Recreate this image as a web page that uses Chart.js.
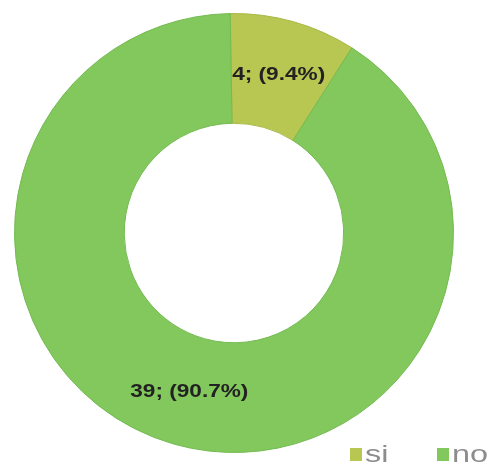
<!DOCTYPE html>
<html>
<head>
<meta charset="utf-8">
<script src="https://cdn.jsdelivr.net/npm/chart.js@4/dist/chart.umd.min.js"></script>
<style>
  html, body { margin: 0; padding: 0; background: #fff; }
  #wrap { width: 493px; height: 467px; position: relative; }
</style>
</head>
<body>
<div id="wrap"><canvas id="answersChart"></canvas></div>
<script>
// ────────────────────────────────────────────────
// Data
// ────────────────────────────────────────────────
const categories    = ['si', 'no'];
const counts        = [4, 39];
const percentLabels = ['9.4%', '90.7%'];

const sliceColors = ['#b8c751', '#82c85d'];
const edgeColors  = ['#a8b848', '#74ba52'];

// ────────────────────────────────────────────────
// Plugins
// ────────────────────────────────────────────────

// "value; (pct)" label in the middle of each ring slice
const sliceLabels = {
    id: 'sliceLabels',
    afterDatasetsDraw(chart) {
        const ctx = chart.ctx;
        chart.getDatasetMeta(0).data.forEach((arc, i) => {
            const pos = arc.tooltipPosition();
            ctx.save();
            ctx.translate(pos.x, pos.y);
            ctx.scale(1.19, 1);
            ctx.font = 'bold 19px "Liberation Sans", Arial, sans-serif';
            ctx.fillStyle = '#222';
            ctx.textAlign = 'center';
            ctx.textBaseline = 'middle';
            ctx.fillText(`${counts[i]}; (${percentLabels[i]})`, 0, 0);
            ctx.restore();
        });
    }
};

// legend in the bottom right corner, built from the chart data
const cornerLegend = {
    id: 'cornerLegend',
    afterDraw(chart) {
        const ctx = chart.ctx;
        const ds = chart.data.datasets[0];
        const itemX = [350, 437];
        chart.data.labels.forEach((label, i) => {
            const x = itemX[i];
            ctx.save();
            ctx.fillStyle = ds.backgroundColor[i];
            ctx.fillRect(x, 448, 12, 13);
            ctx.translate(x + 15, 462);
            ctx.scale(1.35, 1);
            ctx.font = '24px "Liberation Sans", Arial, sans-serif';
            ctx.fillStyle = '#8c8c8c';
            ctx.textAlign = 'left';
            ctx.textBaseline = 'alphabetic';
            ctx.fillText(label, 0, 0);
            ctx.restore();
        });
    }
};

// ────────────────────────────────────────────────
// Chart
// ────────────────────────────────────────────────
new Chart(document.getElementById('answersChart'), {
    type: 'doughnut',
    data: {
        labels: categories,
        datasets: [{
            data: counts,
            backgroundColor: sliceColors,
            borderColor: edgeColors,
            borderWidth: 1
        }]
    },
    options: {
        responsive: true,
        maintainAspectRatio: false,
        animation: false,
        cutout: '50%',
        rotation: -1,
        layout: { padding: { left: 14, right: 39, top: 13, bottom: 14 } },
        plugins: {
            legend: { display: false },
            tooltip: { enabled: false }
        }
    },
    plugins: [sliceLabels, cornerLegend]
});
</script>
</body>
</html>
